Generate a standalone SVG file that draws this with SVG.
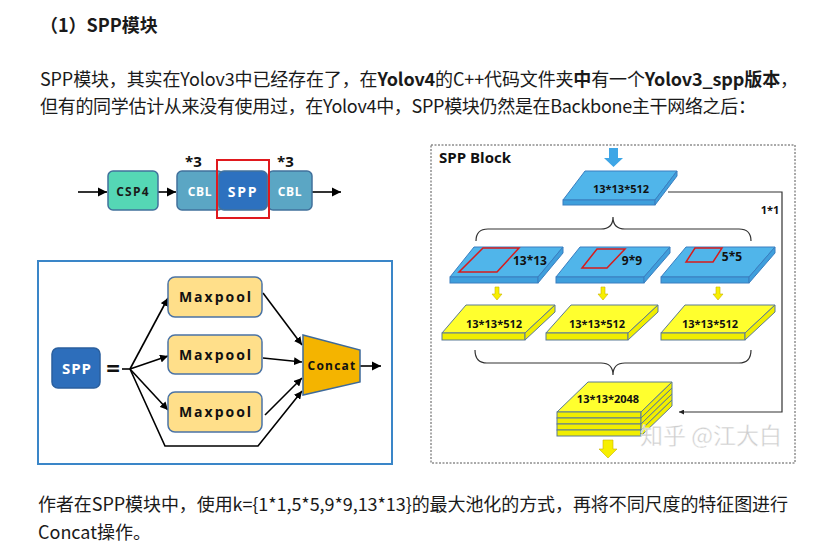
<svg xmlns="http://www.w3.org/2000/svg" width="831" height="553" viewBox="0 0 831 553">
<defs>
<style>
.body{font-family:"Noto Sans CJK SC","Noto Sans",sans-serif;font-size:18px;fill:#1a1a1a}
.b{font-weight:bold}
.lbl{font-family:"Open Sans","DejaVu Sans",sans-serif;font-weight:bold;text-anchor:middle}
.conn{stroke:#000;stroke-width:1.6;fill:none}
.thin{stroke:#333;stroke-width:1.2;fill:none}
.blueTop{fill:#50B5EA;stroke:#3A7EC0;stroke-width:1}
.blueFront{fill:#3F9FDC;stroke:#3A7EC0;stroke-width:1}
.yTop{fill:#FFFF2E;stroke:#5B7A95;stroke-width:1}
.yFront{fill:#F0EE00;stroke:#5B7A95;stroke-width:1}
.red{fill:none;stroke:#D81B1B;stroke-width:1.5}
.box{stroke:#41719C;stroke-width:1.5}
.mp{fill:#FFDF8A;stroke:#4B73A5;stroke-width:1.5}
.yarr{fill:#F7EF00;stroke:#C9B400;stroke-width:0.6}
</style>
<marker id="ah" viewBox="0 0 10 10" refX="10" refY="5" markerWidth="9" markerHeight="10" markerUnits="userSpaceOnUse" orient="auto"><path d="M0,0 L10,5 L0,10 z" fill="#000"/></marker>
<marker id="ahs" viewBox="0 0 10 10" refX="10" refY="5" markerWidth="8" markerHeight="8" markerUnits="userSpaceOnUse" orient="auto"><path d="M0,0 L10,5 L0,10 z" fill="#000"/></marker>
<marker id="aht" viewBox="0 0 10 10" refX="10" refY="5" markerWidth="6" markerHeight="5" markerUnits="userSpaceOnUse" orient="auto"><path d="M0,0 L10,5 L0,10 z" fill="#222"/></marker>
</defs>
<rect width="831" height="553" fill="#fff"/>

<g id="text-top">
<text x="40" y="32" class="body b" font-size="20">（1）SPP模块</text>
<text x="40" y="86" class="body" textLength="758">SPP模块，其实在Yolov3中已经存在了，在<tspan class="b">Yolov4</tspan>的C++代码文件夹<tspan class="b">中</tspan>有一个<tspan class="b">Yolov3_spp版本</tspan>，</text>
<text x="40" y="113" class="body" textLength="716">但有的同学估计从来没有使用过，在Yolov4中，SPP模块仍然是在Backbone主干网络之后：</text>
</g>

<g id="text-bottom">
<text x="38" y="511" class="body" textLength="750">作者在SPP模块中，使用k={1*1,5*5,9*9,13*13}的最大池化的方式，再将不同尺度的特征图进行</text>
<text x="38" y="539" class="body">Concat操作。</text>
</g>

<!-- top-left pipeline -->
<g id="pipeline-connectors">
<line x1="78" y1="192" x2="107" y2="192" class="conn" marker-end="url(#ah)"/>
<line x1="158" y1="192" x2="176" y2="192" class="conn" marker-end="url(#ah)"/>
<line x1="312" y1="192" x2="341" y2="192" class="conn" marker-end="url(#ah)"/>
</g>
<g id="node-csp4">
<rect x="108" y="171" width="50" height="39" rx="5" fill="#55D7B5" class="box"/>
<text x="133" y="196" class="lbl" font-size="12" fill="#1a1a1a" letter-spacing="1.2">CSP4</text>
</g>
<g id="node-cbl1">
<rect x="177" y="171" width="46" height="39" rx="5" fill="#5BA6C4" class="box"/>
<text x="200" y="196" class="lbl" font-size="12" fill="#fff" letter-spacing="0.6">CBL</text>
<text x="185" y="167" font-family="Open Sans, DejaVu Sans, sans-serif" font-weight="bold" font-size="15" fill="#111">*3</text>
</g>
<g id="node-spp-top">
<rect x="219" y="171" width="48" height="39" rx="5" fill="#2D71BF" class="box"/>
<text x="243" y="197" class="lbl" font-size="14" fill="#fff" letter-spacing="1.8">SPP</text>
</g>
<g id="node-cbl2">
<rect x="268" y="171" width="44" height="39" rx="5" fill="#5BA6C4" class="box"/>
<text x="290" y="196" class="lbl" font-size="12" fill="#fff" letter-spacing="0.6">CBL</text>
<text x="277" y="167" font-family="Open Sans, DejaVu Sans, sans-serif" font-weight="bold" font-size="15" fill="#111">*3</text>
</g>
<rect id="spp-highlight" x="217" y="160" width="52" height="58" fill="none" stroke="#E0191E" stroke-width="2"/>

<!-- bottom-left SPP detail -->
<rect id="spp-panel" x="38" y="261" width="354" height="203" fill="#fff" stroke="#3A86C8" stroke-width="2"/>
<g id="spp-connectors">
<path d="M122,369 H130" class="conn"/>
<line x1="130" y1="369" x2="168" y2="298" class="conn" marker-end="url(#ahs)"/>
<line x1="130" y1="369" x2="168" y2="356" class="conn" marker-end="url(#ahs)"/>
<line x1="130" y1="369" x2="168" y2="410" class="conn" marker-end="url(#ahs)"/>
<polyline points="130,369 165,446 258,446 302,391" class="conn" marker-end="url(#ahs)"/>
<line x1="263" y1="293" x2="302" y2="345" class="conn" marker-end="url(#ahs)"/>
<line x1="263" y1="358" x2="302" y2="362" class="conn" marker-end="url(#ahs)"/>
<line x1="265" y1="415" x2="302" y2="378" class="conn" marker-end="url(#ahs)"/>
<line x1="360" y1="366" x2="381" y2="366" class="conn" marker-end="url(#ah)"/>
</g>
<g id="node-spp">
<rect x="52" y="348" width="48" height="40" rx="6" fill="#2D6EBB" stroke="#2A5F9E" stroke-width="1.5"/>
<text x="77" y="374" class="lbl" font-size="15" fill="#fff" letter-spacing="1">SPP</text>
</g>
<text id="equals" x="113" y="377" class="lbl" font-size="24" fill="#111">=</text>
<g id="node-maxpool1">
<rect x="168" y="277" width="94" height="40" rx="7" class="mp"/>
<text x="216" y="302" class="lbl" font-size="14" fill="#111" letter-spacing="2">Maxpool</text>
</g>
<g id="node-maxpool2">
<rect x="168" y="335" width="94" height="39" rx="7" class="mp"/>
<text x="216" y="360" class="lbl" font-size="14" fill="#111" letter-spacing="2">Maxpool</text>
</g>
<g id="node-maxpool3">
<rect x="168" y="392" width="94" height="40" rx="7" class="mp"/>
<text x="216" y="417" class="lbl" font-size="14" fill="#111" letter-spacing="2">Maxpool</text>
</g>
<g id="node-concat">
<polygon points="303,335 360,350 360,382 303,395" fill="#F4B400" stroke="#3E6A9A" stroke-width="1.5"/>
<text x="332" y="370" class="lbl" font-size="12" fill="#111" letter-spacing="1.2">Concat</text>
</g>

<!-- right: SPP Block -->
<rect id="sppblock-frame" x="431" y="145" width="364" height="318" fill="none" stroke="#555" stroke-width="1" stroke-dasharray="2,1.5"/>
<text x="439" y="163" font-family="Open Sans, DejaVu Sans, sans-serif" font-weight="bold" font-size="15" fill="#111">SPP Block</text>

<g id="block-connectors">
<polyline points="668,192 782,192 782,412 679,412" class="thin" marker-end="url(#aht)"/>
<text x="770" y="214" class="lbl" font-size="11" fill="#111">1*1</text>
<path d="M476,241 Q476,229 488,229 L601,229 Q613,229 613,217 Q613,229 625,229 L739,229 Q751,229 751,241" class="thin"/>
<path d="M475,350 Q475,363 487,363 L601,363 Q613,363 613,375 Q613,363 625,363 L739,363 Q751,363 751,350" class="thin"/>
<path d="M609,148 H618 V158 H623 L613.5,167 L604,158 H609 Z" fill="#3EA6E6"/>
<path d="M495,287 H499 V294 H502 L497,300 L492,294 H495 Z" class="yarr"/>
<path d="M601,287 H605 V294 H608 L603,300 L598,294 H601 Z" class="yarr"/>
<path d="M716,287 H720 V294 H723 L718,300 L713,294 H716 Z" class="yarr"/>
<path d="M603,440 H613 V449 H617 L608,458 L599,449 H603 Z" class="yarr"/>
</g>

<g id="slab-input">
<polygon points="585,171 677,171 655,200 563,200" class="blueTop"/>
<rect x="563" y="200" width="92" height="5" class="blueFront"/>
<polygon points="655,200 677,171 677,176 655,205" class="blueFront"/>
<text x="621" y="193" class="lbl" font-size="11" fill="#111">13*13*512</text>
</g>

<g id="pool-13">
<polygon points="474,247 563,247 538,277 450,277" class="blueTop"/>
<rect x="450" y="277" width="88" height="6" class="blueFront"/>
<polygon points="538,277 563,247 563,253 538,283" class="blueFront"/>
<polygon points="483,248 519,248 497,272 459,272" class="red"/>
<text x="530" y="265" class="lbl" font-size="12" fill="#111">13*13</text>
</g>
<g id="pool-9">
<polygon points="580,247 670,247 644,277 556,277" class="blueTop"/>
<rect x="556" y="277" width="88" height="6" class="blueFront"/>
<polygon points="644,277 670,247 670,253 644,283" class="blueFront"/>
<polygon points="597,249 625,249 607,268 582,268" class="red"/>
<text x="632" y="265" class="lbl" font-size="12" fill="#111">9*9</text>
</g>
<g id="pool-5">
<polygon points="686,247 775,247 749,277 661,277" class="blueTop"/>
<rect x="661" y="277" width="88" height="6" class="blueFront"/>
<polygon points="749,277 775,247 775,253 749,283" class="blueFront"/>
<polygon points="695,248 722,248 713,262 686,262" class="red"/>
<text x="732" y="261" class="lbl" font-size="12" fill="#111">5*5</text>
</g>

<g id="out-1">
<polygon points="466,305 555,305 525,333 442,333" class="yTop"/>
<rect x="442" y="333" width="83" height="7" class="yFront"/>
<polygon points="525,333 555,305 555,312 525,340" class="yFront"/>
<text x="494" y="328" class="lbl" font-size="11" fill="#111">13*13*512</text>
</g>
<g id="out-2">
<polygon points="571,305 658,305 628,333 546,333" class="yTop"/>
<rect x="546" y="333" width="82" height="7" class="yFront"/>
<polygon points="628,333 658,305 658,312 628,340" class="yFront"/>
<text x="597" y="328" class="lbl" font-size="11" fill="#111">13*13*512</text>
</g>
<g id="out-3">
<polygon points="685,305 775,305 745,333 661,333" class="yTop"/>
<rect x="661" y="333" width="84" height="7" class="yFront"/>
<polygon points="745,333 775,305 775,312 745,340" class="yFront"/>
<text x="710" y="328" class="lbl" font-size="11" fill="#111">13*13*512</text>
</g>

<g id="concat-stack">
<polygon points="588,382 672,382 641,412 557,412" class="yTop"/>
<rect x="557" y="412" width="84" height="6" class="yFront"/>
<rect x="557" y="418" width="84" height="6" class="yFront"/>
<rect x="557" y="424" width="84" height="6" class="yFront"/>
<rect x="557" y="430" width="84" height="6" class="yFront"/>
<polygon points="641,412 672,382 672,388 641,418" class="yFront"/>
<polygon points="641,418 672,388 672,394 641,424" class="yFront"/>
<polygon points="641,424 672,394 672,400 641,430" class="yFront"/>
<polygon points="641,430 672,400 672,406 641,436" class="yFront"/>
<text x="608" y="403" class="lbl" font-size="11" fill="#111">13*13*2048</text>
</g>

<text id="watermark" x="640" y="444" font-family="Noto Sans CJK SC, sans-serif" font-size="23" fill="#cccccc" stroke="#ffffff" stroke-width="0.4" opacity="0.95">知乎 @江大白</text>
</svg>
